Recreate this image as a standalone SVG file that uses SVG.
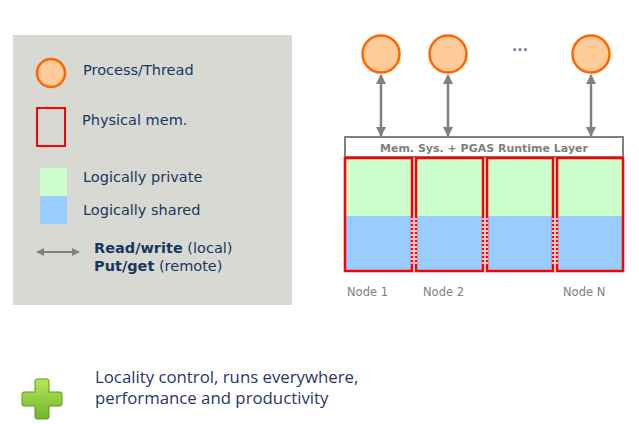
<svg xmlns="http://www.w3.org/2000/svg" width="639" height="424" viewBox="0 0 639 424">
<defs>
<marker id="ah" viewBox="0 0 10 10" refX="9" refY="5" markerWidth="4" markerHeight="4" orient="auto-start-reverse" markerUnits="strokeWidth">
<path d="M0,0 L10,5 L0,10 z" fill="#808080"/>
</marker>
<linearGradient id="pg" x1="0" y1="0" x2="0" y2="1">
<stop offset="0" stop-color="#b5e85a"/>
<stop offset="1" stop-color="#6fb52c"/>
</linearGradient>
<style>
.leg{font-family:"DejaVu Sans",Verdana,sans-serif;font-size:14.5px;fill:#17375e}
.proc{fill:#ffcc99;stroke:#ff6600;stroke-width:2.5}
.mem{stroke:#ff0000;stroke-width:2.5;fill:none}
.priv{fill:#ccffcc}
.shr{fill:#99ccff}
.arr{stroke:#808080;stroke-width:2.5;fill:none}
.node{font-family:"DejaVu Sans",Verdana,sans-serif;font-size:11.5px;fill:#808080}
.dots{stroke:#ffffff;stroke-width:1.5;stroke-dasharray:2 2}
</style>
</defs>
<rect width="639" height="424" fill="#ffffff"/>
<g id="legend">
<rect x="13" y="35" width="279" height="270" fill="#d9d9d4"/>
<circle class="proc" cx="51" cy="73" r="14"/>
<text class="leg" x="83" y="75">Process/Thread</text>
<rect x="37" y="108" width="28" height="38" fill="none" stroke="#ff0000" stroke-width="2"/>
<text class="leg" x="82" y="125">Physical mem.</text>
<rect class="priv" x="40" y="168" width="27" height="28"/>
<rect class="shr" x="40" y="196" width="27" height="28"/>
<text class="leg" x="83" y="182">Logically private</text>
<text class="leg" x="83" y="215">Logically shared</text>
<line x1="37" y1="252" x2="79" y2="252" stroke="#808080" stroke-width="2" marker-start="url(#ah)" marker-end="url(#ah)"/>
<text class="leg" x="94" y="253"><tspan font-weight="bold">Read/write</tspan> (local)</text>
<text class="leg" x="94" y="271"><tspan font-weight="bold">Put/get</tspan> (remote)</text>
</g>
<g id="processes">
<circle class="proc" cx="381" cy="54" r="18.5"/>
<circle class="proc" cx="448" cy="54" r="18.5"/>
<circle class="proc" cx="591" cy="54" r="18.5"/>
<text x="520" y="51" text-anchor="middle" font-family="DejaVu Sans,sans-serif" font-size="14" font-weight="bold" fill="#6f7f95">...</text>
</g>
<g id="connectors">
<line class="arr" x1="381" y1="75" x2="381" y2="136" marker-start="url(#ah)" marker-end="url(#ah)"/>
<line class="arr" x1="448" y1="75" x2="448" y2="136" marker-start="url(#ah)" marker-end="url(#ah)"/>
<line class="arr" x1="591" y1="75" x2="591" y2="136" marker-start="url(#ah)" marker-end="url(#ah)"/>
</g>
<g id="runtime">
<rect x="345" y="137" width="278" height="20" fill="#ffffff" stroke="#808080" stroke-width="2"/>
<text x="484" y="152" text-anchor="middle" font-family="DejaVu Sans,sans-serif" font-size="11" font-weight="bold" fill="#7f7f7f">Mem. Sys. + PGAS Runtime Layer</text>
</g>
<g id="node1">
<rect class="priv" x="345" y="158" width="67" height="58"/>
<rect class="shr" x="345" y="216" width="67" height="55"/>
<rect class="mem" x="345" y="158" width="67" height="113"/>
<text class="node" x="347" y="296">Node 1</text>
</g>
<g id="node2">
<rect class="priv" x="416" y="158" width="67" height="58"/>
<rect class="shr" x="416" y="216" width="67" height="55"/>
<rect class="mem" x="416" y="158" width="67" height="113"/>
<text class="node" x="423" y="296">Node 2</text>
</g>
<g id="node3">
<rect class="priv" x="487" y="158" width="66" height="58"/>
<rect class="shr" x="487" y="216" width="66" height="55"/>
<rect class="mem" x="487" y="158" width="66" height="113"/>
</g>
<g id="nodeN">
<rect class="priv" x="557" y="158" width="66" height="58"/>
<rect class="shr" x="557" y="216" width="66" height="55"/>
<rect class="mem" x="557" y="158" width="66" height="113"/>
<text class="node" x="563" y="296">Node N</text>
</g>
<g id="shared-links">
<line class="dots" x1="412" y1="218" x2="412" y2="266"/>
<line class="dots" x1="416" y1="218" x2="416" y2="266"/>
<line class="dots" x1="483" y1="218" x2="483" y2="266"/>
<line class="dots" x1="487" y1="218" x2="487" y2="266"/>
<line class="dots" x1="553" y1="218" x2="553" y2="266"/>
<line class="dots" x1="557" y1="218" x2="557" y2="266"/>
</g>
<g id="plus">
<path d="M37,379 h10 a2,2 0 0 1 2,2 v11 h11 a2,2 0 0 1 2,2 v10 a2,2 0 0 1 -2,2 h-11 v11 a2,2 0 0 1 -2,2 h-10 a2,2 0 0 1 -2,-2 v-11 h-11 a2,2 0 0 1 -2,-2 v-10 a2,2 0 0 1 2,-2 h11 v-11 a2,2 0 0 1 2,-2 z" fill="url(#pg)" stroke="#5a9a1e" stroke-width="1"/>
</g>
<g id="summary">
<text x="95" y="383" font-family="Open Sans,sans-serif" font-size="16.8" fill="#1f3864">Locality control, runs everywhere,</text>
<text x="95" y="404" font-family="Open Sans,sans-serif" font-size="16.8" fill="#1f3864">performance and productivity</text>
</g>
</svg>
